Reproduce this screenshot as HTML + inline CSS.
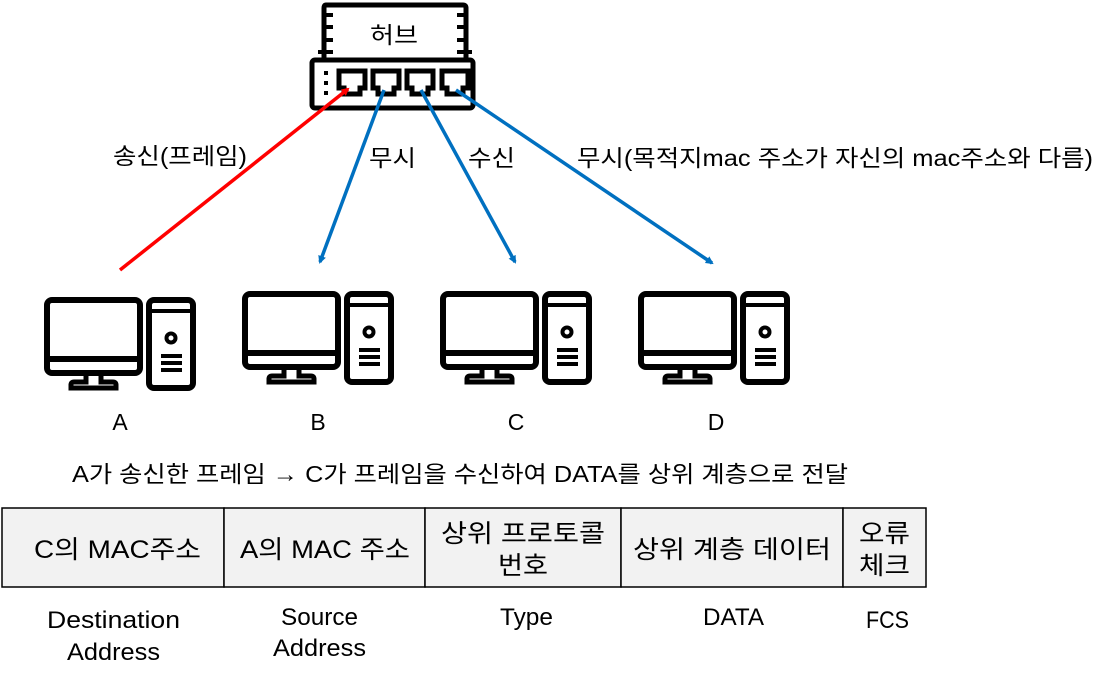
<!DOCTYPE html>
<html><head><meta charset="utf-8"><style>
html,body{margin:0;padding:0;background:#fff;}
svg text{font-family:"Liberation Sans","Noto Sans CJK KR",sans-serif;fill:#000;}
</style></head><body>
<svg width="1105" height="682" viewBox="0 0 1105 682" xmlns="http://www.w3.org/2000/svg">
<defs>
<g id="pc" fill="none" stroke="#000" stroke-width="6">
  <rect x="3" y="3" width="93" height="73" rx="5"/>
  <line x1="3" y1="62" x2="96" y2="62"/>
  <path d="M42 77 L42 85 L30 85 Q27 85 27 88 L27 91 L72 91 L72 88 Q72 85 69 85 L57 85 L57 77" stroke-width="5"/>
  <rect x="105" y="3" width="44" height="88" rx="5"/>
  <line x1="105" y1="14" x2="149" y2="14" stroke-width="4"/>
  <circle cx="127" cy="41" r="4.5" stroke-width="4"/>
  <line x1="117" y1="59" x2="138" y2="59" stroke-width="4"/>
  <line x1="117" y1="66" x2="138" y2="66" stroke-width="4"/>
  <line x1="117" y1="73" x2="138" y2="73" stroke-width="4"/>
</g>
<marker id="ar" markerWidth="8" markerHeight="8" refX="6" refY="4" orient="auto" markerUnits="userSpaceOnUse"><path d="M0,0 L8,4 L0,8 z" fill="#ff0000"/></marker>
<marker id="ab" markerWidth="8" markerHeight="8" refX="6" refY="4" orient="auto" markerUnits="userSpaceOnUse"><path d="M0,0 L8,4 L0,8 z" fill="#0070c0"/></marker>
</defs>

<!-- hub -->
<g fill="none" stroke="#000" stroke-width="5">
  <path d="M326 5 L463 5 Q466 5 466 8 L466 60 L324 60 L324 8 Q324 5 326 5Z"/>
  <rect x="312" y="60" width="161" height="48" rx="3"/>
</g>
<g stroke="#000" stroke-width="4">
  <line x1="324" y1="15" x2="333" y2="15"/><line x1="324" y1="27" x2="333" y2="27"/><line x1="324" y1="40" x2="333" y2="40"/><line x1="318" y1="52" x2="333" y2="52"/>
  <line x1="457" y1="15" x2="466" y2="15"/><line x1="457" y1="27" x2="466" y2="27"/><line x1="457" y1="40" x2="466" y2="40"/><line x1="457" y1="52" x2="472" y2="52"/>
  <line x1="326" y1="71" x2="326" y2="75"/><line x1="326" y1="81" x2="326" y2="85"/><line x1="326" y1="91" x2="326" y2="95"/>
</g>
<g fill="none" stroke="#000" stroke-width="5">
  <path d="M339 71 h26 v17 h-5 v6 h-16 v-6 h-5z"/>
  <path d="M373 71 h26 v17 h-5 v6 h-16 v-6 h-5z"/>
  <path d="M407 71 h26 v17 h-5 v6 h-16 v-6 h-5z"/>
  <path d="M442 71 h26 v17 h-5 v6 h-16 v-6 h-5z"/>
</g>
<text x="370" y="43" font-size="23" textLength="48" lengthAdjust="spacingAndGlyphs">허브</text>

<!-- arrows -->
<line x1="120" y1="270" x2="348" y2="89" stroke="#ff0000" stroke-width="3.5" marker-end="url(#ar)"/>
<line x1="384" y1="90" x2="320" y2="262" stroke="#0070c0" stroke-width="3.5" marker-end="url(#ab)"/>
<line x1="421" y1="90" x2="515" y2="262" stroke="#0070c0" stroke-width="3.5" marker-end="url(#ab)"/>
<line x1="456" y1="90" x2="712" y2="263" stroke="#0070c0" stroke-width="3.5" marker-end="url(#ab)"/>

<g font-size="23">
<text x="113" y="164" textLength="134" lengthAdjust="spacingAndGlyphs">송신(프레임)</text>
<text x="369" y="166" textLength="47" lengthAdjust="spacingAndGlyphs">무시</text>
<text x="468" y="166" textLength="47" lengthAdjust="spacingAndGlyphs">수신</text>
<text x="577" y="166" textLength="516" lengthAdjust="spacingAndGlyphs">무시(목적지mac 주소가 자신의 mac주소와 다름)</text>
</g>

<use href="#pc" x="44" y="297"/>
<use href="#pc" x="242" y="291"/>
<use href="#pc" x="440" y="291"/>
<use href="#pc" x="638" y="291"/>

<g font-size="23" text-anchor="middle">
<text x="120" y="430">A</text>
<text x="318" y="430">B</text>
<text x="516" y="430">C</text>
<text x="716" y="430">D</text>
</g>
<text x="72" y="482" font-size="23" textLength="776" lengthAdjust="spacingAndGlyphs">A가 송신한 프레임 → C가 프레임을 수신하여 DATA를 상위 계층으로 전달</text>

<!-- table -->
<g fill="#f2f2f2" stroke="#000" stroke-width="1.5">
  <rect x="2" y="508" width="222" height="79"/>
  <rect x="224" y="508" width="201" height="79"/>
  <rect x="425" y="508" width="196" height="79"/>
  <rect x="621" y="508" width="222" height="79"/>
  <rect x="843" y="508" width="83" height="79"/>
</g>
<g font-size="25" lengthAdjust="spacingAndGlyphs">
<text x="34" y="558" textLength="167" lengthAdjust="spacingAndGlyphs">C의 MAC주소</text>
<text x="240" y="558" textLength="170" lengthAdjust="spacingAndGlyphs">A의 MAC 주소</text>
<text x="441" y="542" textLength="164" lengthAdjust="spacingAndGlyphs">상위 프로토콜</text>
<text x="498" y="574" textLength="50" lengthAdjust="spacingAndGlyphs">번호</text>
<text x="633" y="558" textLength="198" lengthAdjust="spacingAndGlyphs">상위 계층 데이터</text>
<text x="859" y="542" textLength="51" lengthAdjust="spacingAndGlyphs">오류</text>
<text x="859" y="574" textLength="51" lengthAdjust="spacingAndGlyphs">체크</text>
</g>
<g font-size="24">
<text x="47" y="628" textLength="133" lengthAdjust="spacingAndGlyphs">Destination</text>
<text x="67" y="660" textLength="93" lengthAdjust="spacingAndGlyphs">Address</text>
<text x="281" y="625" textLength="77" lengthAdjust="spacingAndGlyphs">Source</text>
<text x="273" y="656" textLength="93" lengthAdjust="spacingAndGlyphs">Address</text>
<text x="500" y="625" textLength="53" lengthAdjust="spacingAndGlyphs">Type</text>
<text x="703" y="625" textLength="61" lengthAdjust="spacingAndGlyphs">DATA</text>
<text x="866" y="628" textLength="43" lengthAdjust="spacingAndGlyphs">FCS</text>
</g>
</svg>
</body></html>
